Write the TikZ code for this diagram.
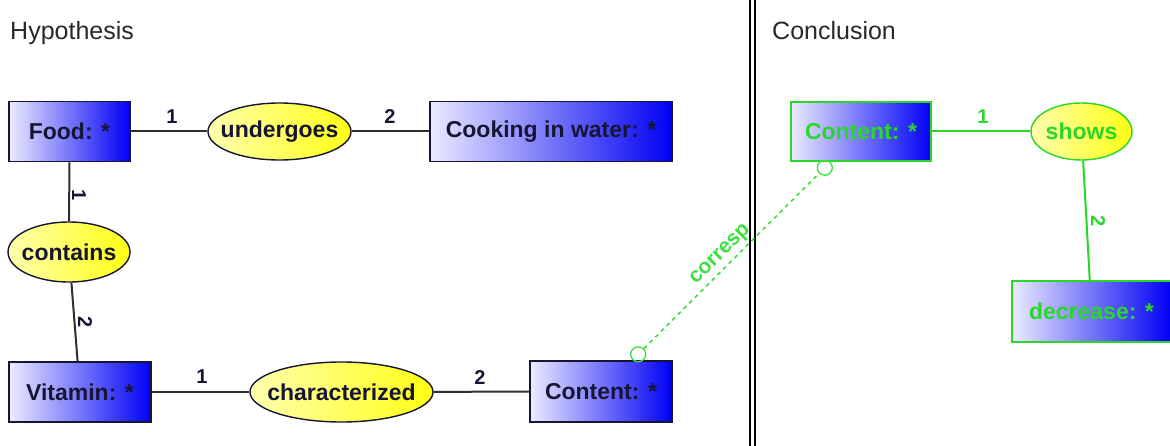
\documentclass[tikz,border=0pt]{standalone}
\usepackage{fontspec}
\setmainfont{Liberation Sans}
\usetikzlibrary{shapes.geometric,calc}
\definecolor{navy}{RGB}{22,22,52}
\definecolor{grn}{RGB}{40,215,40}
\definecolor{grnl}{RGB}{60,225,60}
\definecolor{boxl}{RGB}{235,235,255}
\definecolor{boxr}{RGB}{0,0,245}
\definecolor{ylwl}{RGB}{255,255,175}
\definecolor{ylwr}{RGB}{255,255,20}
\definecolor{edgec}{RGB}{45,45,50}
\definecolor{titlec}{RGB}{40,40,40}
\newcommand{\zwbox}[1]{\makebox[0pt][c]{#1}}
\tikzset{
  entity/.style={rectangle, draw=navy, line width=1.8pt, left color=boxl, right color=boxr,
    minimum height=60pt, inner sep=0pt, font=\fontsize{23}{23}\selectfont\bfseries, text=navy},
  rel/.style={ellipse, draw=navy, line width=1.4pt, left color=ylwl, right color=ylwr,
    inner sep=0pt, font=\fontsize{23}{23}\selectfont\bfseries, text=navy},
  gentity/.style={entity, draw=grn, text=grn},
  grel/.style={rel, draw=grn, text=grn},
  conn/.style={draw=edgec, line width=2pt},
  gconn/.style={draw=grn, line width=2pt},
  corr/.style={draw=grnl, line width=1.5pt, dash pattern=on 4pt off 4pt},
  ring/.style={circle, draw=grnl, line width=1.3pt, minimum size=15pt, inner sep=0pt},
  lbl/.style={font=\fontsize{20}{20}\selectfont\bfseries, text=navy, inner sep=0pt},
  glbl/.style={lbl, text=grn},
  corrlbl/.style={font=\fontsize{21}{21}\selectfont\bfseries, text=grnl, inner sep=0pt},
  title/.style={font=\fontsize{25}{25}\selectfont, text=titlec, inner sep=0pt, anchor=base west},
  divider/.style={draw=black, line width=1.5pt}
}
\begin{document}
\begin{tikzpicture}[x=1pt,y=-1pt]
\useasboundingbox (0,0) rectangle (1170,446);
\clip (0,0) rectangle (1170,446);

% titles
\node[title] (hyp) at (10,40) {Hypothesis};
\node[title] (conc) at (772,40) {Conclusion};

% panel divider
\draw[divider] (750,0) -- (750,446);
\draw[divider] (755,0) -- (755,446);

% hypothesis nodes
\node[entity, minimum width=121pt] (food) at (69.5,131.5) {Food: *};
\node[rel, minimum width=143pt, minimum height=57pt] (undergoes) at (279.5,131.5) {\zwbox{undergoes}};
\node[entity, minimum width=242pt] (cooking) at (551,131.5) {Cooking in water: *};
\node[rel, minimum width=122pt, minimum height=60pt] (contains) at (69,252) {\zwbox{contains}};
\node[entity, minimum width=142pt] (vitamin) at (80,392) {Vitamin: *};
\node[rel, minimum width=183pt, minimum height=60pt] (characterized) at (341.5,392) {\zwbox{characterized}};
\node[entity, minimum width=142pt, minimum height=61pt] (contentL) at (601,391.5) {Content: *};

% conclusion nodes
\node[gentity, minimum width=140pt, minimum height=59pt] (contentR) at (861,131.5) {Content: *};
\node[grel, minimum width=101pt, minimum height=57pt] (shows) at (1081.5,131.5) {\zwbox{shows}};
\node[gentity, minimum width=159pt, minimum height=61pt] (decrease) at (1091.5,311.5) {decrease: *};

% connectors
\draw[conn] (food) -- (undergoes);
\draw[conn] (undergoes) -- (cooking);
\draw[conn] (food) -- (contains);
\draw[conn] (contains) -- (vitamin);
\draw[conn] (vitamin) -- (characterized);
\draw[conn] (characterized) -- (contentL);
\draw[gconn] (contentR) -- (shows);
\draw[gconn] (shows) -- (decrease);

% labels
\node[lbl] (l1) at (172,117) {1};
\node[lbl] (l2) at (390,117) {2};
\node[lbl, rotate=-90] (l3) at (79,195) {1};
\node[lbl, rotate=-90] (l4) at (85,322) {2};
\node[lbl] (l5) at (202,377) {1};
\node[lbl] (l6) at (480,378) {2};
\node[glbl] (l7) at (983,117) {1};
\node[glbl, rotate=-90] (l8) at (1098,221) {2};

% correspondence
\node[ring] (rL) at ($(contentL.center)!52.6pt!(contentR.center)$) {};
\node[ring] (rR) at ($(contentR.center)!51.2pt!(contentL.center)$) {};
\draw[corr] (rL) -- (rR);
\node[corrlbl, rotate=45] (corresp) at (721,255) {corresp};
\end{tikzpicture}
\end{document}
